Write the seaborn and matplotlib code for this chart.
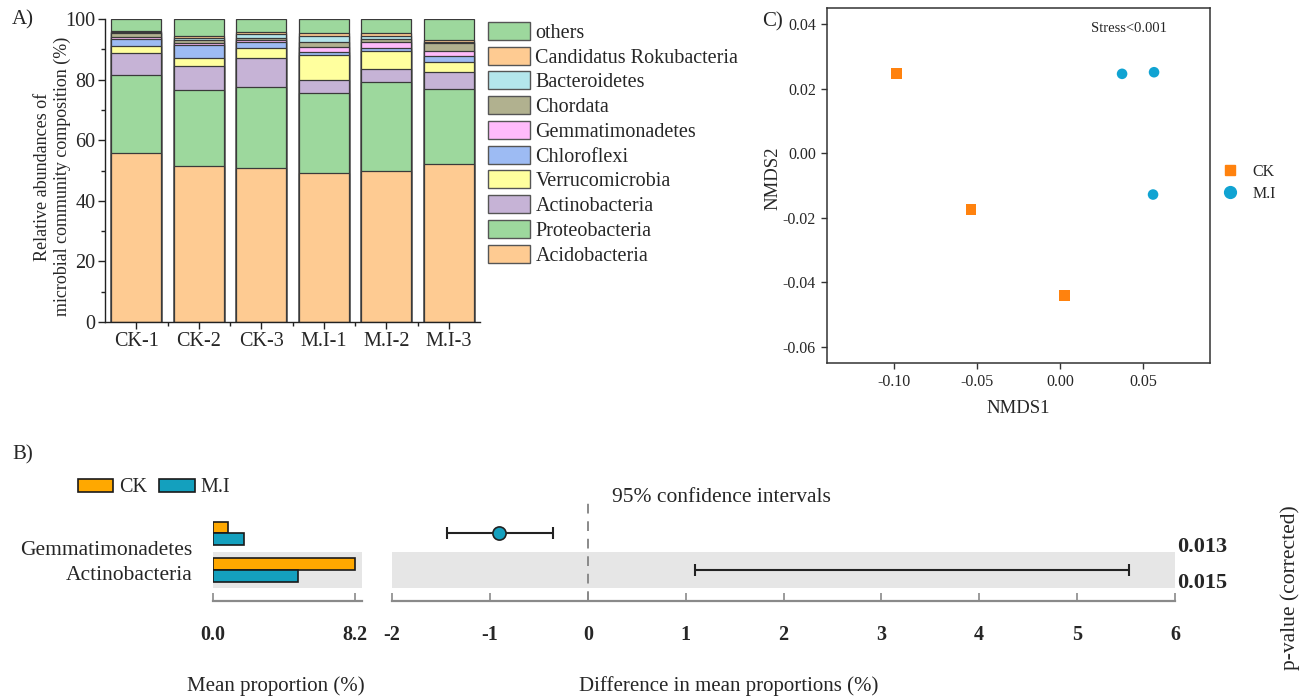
import numpy as np
import pandas as pd
import matplotlib
matplotlib.use('Agg')
import matplotlib.pyplot as plt
import seaborn as sns
from matplotlib.patches import Patch
from matplotlib.lines import Line2D
from matplotlib.ticker import MultipleLocator, FixedLocator

sns.set_theme(style='ticks')
plt.rcParams['font.family'] = ['Liberation Serif', 'DejaVu Serif']
plt.rcParams['axes.unicode_minus'] = False

# ---------------- data: panel A ----------------
samples = ['CK-1', 'CK-2', 'CK-3', 'M.I-1', 'M.I-2', 'M.I-3']
acidobacteria = [55.7, 51.6, 50.8, 49.3, 49.8, 52.0]
proteobacteria = [25.8, 24.9, 26.9, 26.3, 29.3, 24.8]
actinobacteria = [7.2, 8.0, 9.3, 4.4, 4.4, 5.8]
verrucomicrobia = [2.5, 2.5, 3.3, 8.0, 6.0, 3.3]
chloroflexi = [2.2, 4.4, 2.0, 1.2, 1.0, 1.9]
gemmatimonadetes = [0.8, 0.8, 0.8, 1.7, 1.8, 1.7]
chordata = [1.2, 1.0, 0.6, 1.4, 1.1, 2.7]
bacteroidetes = [0.3, 0.5, 1.2, 2.0, 1.1, 0.1]
candidatus_rokubacteria = [0.45, 0.7, 0.7, 1.0, 0.8, 0.9]
others = [3.85, 5.6, 4.4, 4.7, 4.7, 6.8]

taxa_names = ['Acidobacteria', 'Proteobacteria', 'Actinobacteria', 'Verrucomicrobia',
              'Chloroflexi', 'Gemmatimonadetes', 'Chordata', 'Bacteroidetes',
              'Candidatus Rokubacteria', 'others']
taxa_values = [acidobacteria, proteobacteria, actinobacteria, verrucomicrobia,
               chloroflexi, gemmatimonadetes, chordata, bacteroidetes,
               candidatus_rokubacteria, others]
taxa_colors = ['#FECB92', '#9DD89D', '#C6B3D6', '#FFFF9E', '#9DBBF3',
               '#FFBBFB', '#B1B18F', '#B4E6EC', '#FECB92', '#9DD89D']

# ---------------- data: panel C (NMDS) ----------------
nmds_group = ['CK', 'CK', 'CK', 'M.I', 'M.I', 'M.I']
nmds1 = [-0.0984, -0.0536, 0.0026, 0.0372, 0.0564, 0.0558]
nmds2 = [0.0247, -0.0174, -0.0441, 0.0246, 0.0251, -0.0128]

# ---------------- data: panel B ----------------
b_taxa = ['Gemmatimonadetes', 'Actinobacteria']
mean_ck = [0.87, 8.2]
mean_mi = [1.79, 4.9]
diff_mean = [-0.91, 3.32]
ci_low = [-1.44, 1.10]
ci_high = [-0.36, 5.53]
p_values = ['0.013', '0.015']

group_colors = {'CK': '#FFA800', 'M.I': '#14A0BE'}
nmds_colors = {'CK': '#FF820E', 'M.I': '#10A3D2'}

W, H = 1304, 699
fig = plt.figure(figsize=(W / 100, H / 100), dpi=100)


def rect(x0, y0, x1, y1):
    return [x0 / W, 1 - y1 / H, (x1 - x0) / W, (y1 - y0) / H]


edge = '#3a3a3a'
# ================= Panel A =================
axA = fig.add_axes(rect(105, 19, 480, 322))
cum = np.zeros(len(samples))
cums = []
for vals in taxa_values:
    cum = cum + np.array(vals)
    cums.append(cum.copy())
for c, col in reversed(list(zip(cums, taxa_colors))):
    sns.barplot(x=samples, y=c, color=col, saturation=1, width=0.8,
                edgecolor=edge, linewidth=0.9, ax=axA)
axA.set_xlim(-0.5, 5.5)
axA.set_ylim(0, 100)
axA.yaxis.set_major_locator(MultipleLocator(20))
axA.yaxis.set_minor_locator(MultipleLocator(10))
axA.xaxis.set_minor_locator(FixedLocator([0.5, 1.5, 2.5, 3.5, 4.5]))
for s in ['top', 'right']:
    axA.spines[s].set_visible(False)
for s in ['left', 'bottom']:
    axA.spines[s].set_color('#222222')
    axA.spines[s].set_linewidth(1.0)
axA.tick_params(axis='both', which='major', direction='out', length=5, width=1,
                labelsize=14.5, color='#222222', pad=2)
axA.tick_params(axis='both', which='minor', direction='out', length=3, width=1, color='#222222')
axA.set_xlabel('')
axA.set_ylabel('Relative abundances of\nmicrobial community composition (%)', fontsize=13,
               linespacing=1.25)
axA.yaxis.set_label_coords(-0.14, 0.48)
axA.yaxis.label.set_va('center')

handlesA = [Patch(facecolor=col, edgecolor='#555555', linewidth=1.0, label=n)
            for n, col in zip(taxa_names, taxa_colors)][::-1]
fig.legend(handles=handlesA, loc='upper left', bbox_to_anchor=(488 / W, 1 - 22 / H),
           frameon=False, fontsize=14.5, handlelength=2.1, handleheight=1.0,
           labelspacing=0.19, handletextpad=0.25, borderpad=0, borderaxespad=0)

fig.text(12 / W, 1 - 20 / H, 'A)', fontsize=15, va='center', ha='left')

# ================= Panel C =================
axC = fig.add_axes(rect(827, 8, 1210, 363))
nmds_df = pd.DataFrame({'NMDS1': nmds1, 'NMDS2': nmds2, 'Group': nmds_group})
sns.scatterplot(data=nmds_df, x='NMDS1', y='NMDS2', hue='Group', style='Group',
                markers={'CK': 's', 'M.I': 'o'}, palette=nmds_colors, s=58,
                edgecolor='none', legend=False, ax=axC)
axC.set_xlim(-0.14, 0.09)
axC.set_ylim(-0.065, 0.045)
axC.set_xticks([-0.10, -0.05, 0.00, 0.05])
axC.set_xticklabels(['-0.10', '-0.05', '0.00', '0.05'])
axC.set_yticks([0.04, 0.02, 0.00, -0.02, -0.04, -0.06])
axC.set_yticklabels(['0.04', '0.02', '0.00', '-0.02', '-0.04', '-0.06'])
for s in axC.spines.values():
    s.set_color('#333333')
    s.set_linewidth(1.1)
axC.tick_params(axis='both', direction='out', length=4, width=1, labelsize=11.5,
                color='#333333', pad=4)
axC.set_xlabel('NMDS1', fontsize=13.5)
axC.set_ylabel('NMDS2', fontsize=13.5)
axC.xaxis.set_label_coords(0.5, -0.127)
axC.xaxis.label.set_va('center')
axC.yaxis.set_label_coords(-0.141, 0.52)
axC.yaxis.label.set_va('center')
axC.text(0.69, 0.942, 'Stress<0.001', transform=axC.transAxes, fontsize=10.5,
         ha='left', va='center')
handlesC = [Line2D([], [], marker='s', linestyle='none', color=nmds_colors['CK'],
                   markersize=7.5, label='CK'),
            Line2D([], [], marker='o', linestyle='none', color=nmds_colors['M.I'],
                   markersize=8.5, label='M.I')]
fig.legend(handles=handlesC, loc='upper left', bbox_to_anchor=(1222 / W, 1 - 164 / H),
           frameon=False, fontsize=11.5, handlelength=1.0, handletextpad=0.9,
           labelspacing=0.35, borderpad=0, borderaxespad=0)
fig.text(762 / W, 1 - 22 / H, 'C)', fontsize=15, va='center', ha='left')

# ================= Panel B =================
ylimB = (1.85, -1.0)
axL = fig.add_axes(rect(213, 497, 362, 601))
mp = pd.DataFrame({'Taxon': b_taxa * 2,
                   'Group': ['CK'] * 2 + ['M.I'] * 2,
                   'Mean': mean_ck + mean_mi})
axL.axhspan(0.5, 1.5, color='#E6E6E6', zorder=0, lw=0)
sns.barplot(data=mp, y='Taxon', x='Mean', hue='Group', order=b_taxa,
            hue_order=['CK', 'M.I'], palette=group_colors, saturation=1,
            width=0.64, edgecolor='#1a1a1a', linewidth=1.2, orient='h',
            legend=False, ax=axL)
axL.set_xlim(0, 8.6)
axL.set_ylim(*ylimB)
axL.set_xticks([0, 8.2])
axL.set_xticklabels(['0.0', '8.2'], fontweight='bold')
axL.set_yticks([0.4, 1.08])
axL.set_yticklabels(b_taxa)
for s in ['top', 'right', 'left']:
    axL.spines[s].set_visible(False)
axL.spines['bottom'].set_color('#8a8a8a')
axL.spines['bottom'].set_linewidth(1.6)
axL.tick_params(axis='x', direction='in', length=6, width=1.2, color='#8a8a8a',
                labelsize=14.5, pad=17)
axL.tick_params(axis='y', length=0, labelsize=15.5, pad=15)
axL.set_ylabel('')
axL.set_xlabel('Mean proportion (%)', fontsize=15)
axL.xaxis.set_label_coords(0.42, -0.817)
axL.xaxis.label.set_va('center')
axL.set_facecolor('none')

handlesB = [Patch(facecolor=group_colors['CK'], edgecolor='#1a1a1a', linewidth=1.2, label='CK'),
            Patch(facecolor=group_colors['M.I'], edgecolor='#1a1a1a', linewidth=1.2, label='M.I')]
fig.legend(handles=handlesB, loc='center left', bbox_to_anchor=(78 / W, 1 - 488 / H),
           frameon=False, fontsize=14.5, ncol=2, handlelength=1.75, handleheight=0.6,
           handletextpad=0.3, columnspacing=0.6, borderpad=0, borderaxespad=0)
fig.text(12 / W, 1 - 455 / H, 'B)', fontsize=15, va='center', ha='left')

axR = fig.add_axes(rect(392, 497, 1175, 601))
axR.axhspan(0.5, 1.5, color='#E6E6E6', zorder=0, lw=0)
axR.axvline(0, color='#8a8a8a', linestyle=(0, (5, 4)), linewidth=1.4, zorder=1)
ypos = np.arange(len(b_taxa))
axR.errorbar(x=[diff_mean[1]], y=[ypos[1]],
             xerr=[[diff_mean[1] - ci_low[1]], [ci_high[1] - diff_mean[1]]],
             fmt='none', ecolor='#222222', elinewidth=1.5, capsize=4, capthick=1.5, zorder=3)
axR.errorbar(x=[diff_mean[0]], y=[ypos[0]],
             xerr=[[diff_mean[0] - ci_low[0]], [ci_high[0] - diff_mean[0]]],
             fmt='none', ecolor='#222222', elinewidth=1.5, capsize=4, capthick=1.5, zorder=3)
sns.scatterplot(x=[diff_mean[0]], y=[ypos[0]], color=group_colors['M.I'], s=90,
                edgecolor='#222222', linewidth=1.2, zorder=4, ax=axR)
axR.set_xlim(-2, 6)
axR.set_ylim(*ylimB)
axR.set_xticks(range(-2, 7))
axR.set_xticklabels([str(v) for v in range(-2, 7)], fontweight='bold')
axR.set_yticks([])
for s in ['top', 'right', 'left']:
    axR.spines[s].set_visible(False)
axR.spines['bottom'].set_color('#8a8a8a')
axR.spines['bottom'].set_linewidth(1.6)
axR.tick_params(axis='x', direction='in', length=6, width=1.2, color='#8a8a8a',
                labelsize=14.5, pad=17)
axR.set_xlabel('Difference in mean proportions (%)', fontsize=15)
axR.xaxis.set_label_coords(0.43, -0.817)
axR.xaxis.label.set_va('center')
axR.set_facecolor('none')
axR.text(0.245, -1.0, '95% confidence intervals', fontsize=15.5, ha='left', va='center')
ytr = axR.get_yaxis_transform()
axR.text(1.003, 0.37, p_values[0], transform=ytr, fontsize=16, fontweight='bold',
         ha='left', va='center')
axR.text(1.003, 1.36, p_values[1], transform=ytr, fontsize=16, fontweight='bold',
         ha='left', va='center')
fig.text(1290 / W, 1 - 588 / H, 'p-value (corrected)', fontsize=15.5, rotation=90,
         ha='center', va='center')

fig.savefig('out.png', dpi=100)
